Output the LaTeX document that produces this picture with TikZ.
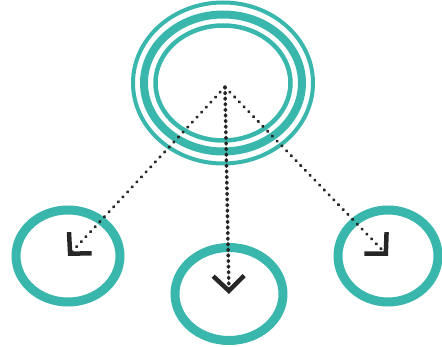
\documentclass[tikz,border=0pt]{standalone}
\usepackage{tikz}
\usetikzlibrary{shapes.geometric, arrows.meta}
\definecolor{turquesa}{RGB}{58,183,172}

\begin{document}
\begin{tikzpicture}[x=1pt, y=-1pt,
    anell/.style={ellipse, draw=turquesa, inner sep=0pt, minimum width=104pt, minimum height=92pt, line width=9pt},
    fletxa/.style={black!85, line width=3.6pt, line cap=round, dash pattern=on 1pt off 4.6pt,
        -{Straight Barb[length=15pt, width=31pt, line width=4.5pt]}},
    diagonal/.style={fletxa, line width=3pt, dash pattern=on 0.6pt off 6.2pt}]
    \useasboundingbox (0,0) rectangle (442,347);
    % Cercle principal amb tres anells
    \node[anell, line width=4pt, minimum width=180pt, minimum height=161pt] (hub) at (223,83) {};
    \node[anell, line width=8pt, minimum width=158pt, minimum height=137pt] at (hub) {};
    \node[anell, line width=4.5pt, minimum width=135pt, minimum height=115pt] at (hub) {};
    \coordinate (apex) at (225,87);
    % Cercles de sota
    \node[anell] (esq) at (68,256) {};
    \node[anell, minimum width=108pt, minimum height=93pt] (mig) at (229,294) {};
    \node[anell, minimum width=100pt] (dre) at (388,256) {};
    % Fletxes puntejades
    \draw[diagonal] (apex) -- (esq.center);
    \draw[fletxa] (apex) -- (mig.center);
    \draw[diagonal] (apex) -- (dre.center);
\end{tikzpicture}
\end{document}
